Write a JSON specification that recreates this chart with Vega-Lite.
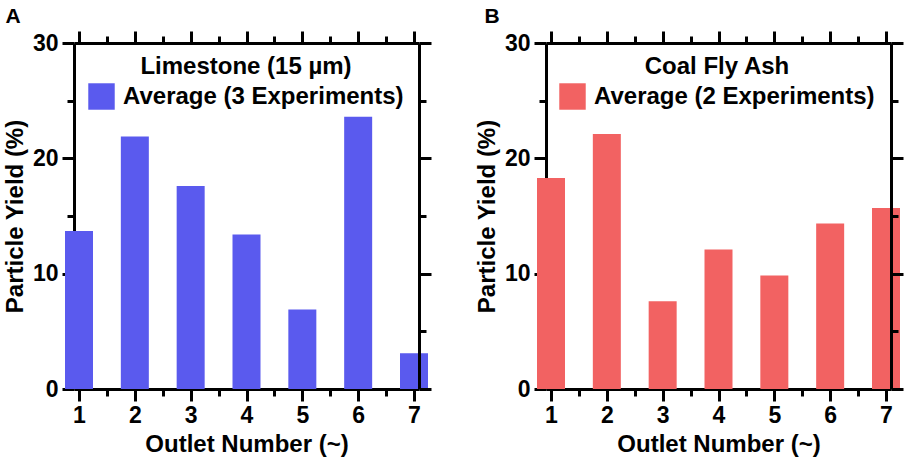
{
  "$schema": "https://vega.github.io/schema/vega-lite/v6.json",
  "padding": {"left": 3, "top": 5, "right": 5, "bottom": 5},
  "config": {
    "font": "Liberation Sans",
    "view": {"stroke": null},
    "axis": {
      "domainColor": "black", "domainWidth": 3, "tickColor": "black", "tickWidth": 3,
      "labelFont": "Liberation Sans", "labelFontSize": 23, "labelFontWeight": "bold", "labelColor": "black",
      "titleFont": "Liberation Sans", "titleFontSize": 24, "titleFontWeight": "bold", "titleColor": "black",
      "grid": false, "labelFlush": false, "labelOverlap": false
    },
    "title": {"font": "Liberation Sans", "fontSize": 21, "fontWeight": "bold", "color": "black"}
  },
  "datasets": {
    "limestone": [
      {"outlet": 1, "yield": 13.7, "series": "Average (3 Experiments)"},
      {"outlet": 2, "yield": 21.9, "series": "Average (3 Experiments)"},
      {"outlet": 3, "yield": 17.6, "series": "Average (3 Experiments)"},
      {"outlet": 4, "yield": 13.4, "series": "Average (3 Experiments)"},
      {"outlet": 5, "yield": 6.9, "series": "Average (3 Experiments)"},
      {"outlet": 6, "yield": 23.6, "series": "Average (3 Experiments)"},
      {"outlet": 7, "yield": 3.1, "series": "Average (3 Experiments)"}
    ],
    "flyash": [
      {"outlet": 1, "yield": 18.3, "series": "Average (2 Experiments)"},
      {"outlet": 2, "yield": 22.1, "series": "Average (2 Experiments)"},
      {"outlet": 3, "yield": 7.6, "series": "Average (2 Experiments)"},
      {"outlet": 4, "yield": 12.1, "series": "Average (2 Experiments)"},
      {"outlet": 5, "yield": 9.85, "series": "Average (2 Experiments)"},
      {"outlet": 6, "yield": 14.35, "series": "Average (2 Experiments)"},
      {"outlet": 7, "yield": 15.7, "series": "Average (2 Experiments)"}
    ]
  },
  "spacing": 42,
  "resolve": {"scale": {"color": "independent"}},
  "hconcat": [
    {
      "title": {"text": "A", "anchor": "start", "frame": "bounds", "offset": 3, "dx": 2},
      "width": 345,
      "height": 346,
      "data": {"name": "limestone"},
      "resolve": {"axis": {"x": "independent", "y": "independent"}},
      "layer": [
        {
          "mark": {"type": "bar", "size": 28},
          "encoding": {
            "x": {"field": "outlet", "type": "quantitative", "scale": {"domain": [1, 7], "nice": false, "zero": false},
              "axis": {"orient": "bottom", "values": [1, 2, 3, 4, 5, 6, 7], "tickSize": 12, "labelPadding": 3, "title": "Outlet Number (~)", "titlePadding": 5}},
            "y": {"field": "yield", "type": "quantitative", "scale": {"domain": [0, 30], "nice": false},
              "axis": {"orient": "left", "values": [0, 10, 20, 30], "tickSize": 12, "labelPadding": 4, "title": "Particle Yield (%)", "titlePadding": 5}},
            "color": {"field": "series", "type": "nominal", "scale": {"range": ["#5a5aee"]},
              "legend": {"orient": "none", "legendX": 14, "legendY": 12, "title": "Limestone (15 µm)",
                "titleAnchor": "middle", "titleAlign": "center", "titleFontSize": 24, "titleFontWeight": "bold", "titleColor": "black", "titlePadding": 4, "titleLimit": 400,
                "labelFontSize": 24, "labelFontWeight": "bold", "labelColor": "black", "labelLimit": 400, "labelOffset": 8,
                "symbolType": "square", "symbolSize": 700, "symbolStrokeWidth": 0, "symbolOpacity": 1}}
          }
        },
        {
          "mark": {"type": "bar", "size": 28, "opacity": 0},
          "encoding": {
            "x": {"field": "outlet", "type": "quantitative",
              "axis": {"orient": "bottom", "values": [1.5, 2.5, 3.5, 4.5, 5.5, 6.5], "tickSize": 7, "labels": false, "domain": false, "title": null}},
            "y": {"field": "yield", "type": "quantitative",
              "axis": {"orient": "left", "values": [5, 15, 25], "tickSize": 7, "labels": false, "domain": false, "title": null}}
          }
        },
        {
          "mark": {"type": "bar", "size": 28, "opacity": 0},
          "encoding": {
            "x": {"field": "outlet", "type": "quantitative",
              "axis": {"orient": "top", "values": [1, 2, 3, 4, 5, 6, 7], "tickSize": 12, "labels": false, "title": null, "zindex": 1}},
            "y": {"field": "yield", "type": "quantitative",
              "axis": {"orient": "right", "values": [0, 10, 20, 30], "tickSize": 12, "labels": false, "title": null, "zindex": 1}}
          }
        },
        {
          "mark": {"type": "bar", "size": 28, "opacity": 0},
          "encoding": {
            "x": {"field": "outlet", "type": "quantitative",
              "axis": {"orient": "top", "values": [1.5, 2.5, 3.5, 4.5, 5.5, 6.5], "tickSize": 7, "labels": false, "domain": false, "title": null, "zindex": 1}},
            "y": {"field": "yield", "type": "quantitative",
              "axis": {"orient": "right", "values": [5, 15, 25], "tickSize": 7, "labels": false, "domain": false, "title": null, "zindex": 1}}
          }
        }
      ]
    },
    {
      "title": {"text": "B", "anchor": "start", "frame": "bounds", "offset": 3, "dx": 9},
      "width": 345,
      "height": 346,
      "data": {"name": "flyash"},
      "resolve": {"axis": {"x": "independent", "y": "independent"}},
      "layer": [
        {
          "mark": {"type": "bar", "size": 28},
          "encoding": {
            "x": {"field": "outlet", "type": "quantitative", "scale": {"domain": [1, 7], "nice": false, "zero": false},
              "axis": {"orient": "bottom", "values": [1, 2, 3, 4, 5, 6, 7], "tickSize": 12, "labelPadding": 3, "title": "Outlet Number (~)", "titlePadding": 5}},
            "y": {"field": "yield", "type": "quantitative", "scale": {"domain": [0, 30], "nice": false},
              "axis": {"orient": "left", "values": [0, 10, 20, 30], "tickSize": 12, "labelPadding": 4, "title": "Particle Yield (%)", "titlePadding": 5}},
            "color": {"field": "series", "type": "nominal", "scale": {"range": ["#f26262"]},
              "legend": {"orient": "none", "legendX": 13, "legendY": 12, "title": "Coal Fly Ash",
                "titleAnchor": "middle", "titleAlign": "center", "titleFontSize": 24, "titleFontWeight": "bold", "titleColor": "black", "titlePadding": 4, "titleLimit": 400,
                "labelFontSize": 24, "labelFontWeight": "bold", "labelColor": "black", "labelLimit": 400, "labelOffset": 8,
                "symbolType": "square", "symbolSize": 700, "symbolStrokeWidth": 0, "symbolOpacity": 1}}
          }
        },
        {
          "mark": {"type": "bar", "size": 28, "opacity": 0},
          "encoding": {
            "x": {"field": "outlet", "type": "quantitative",
              "axis": {"orient": "bottom", "values": [1.5, 2.5, 3.5, 4.5, 5.5, 6.5], "tickSize": 7, "labels": false, "domain": false, "title": null}},
            "y": {"field": "yield", "type": "quantitative",
              "axis": {"orient": "left", "values": [5, 15, 25], "tickSize": 7, "labels": false, "domain": false, "title": null}}
          }
        },
        {
          "mark": {"type": "bar", "size": 28, "opacity": 0},
          "encoding": {
            "x": {"field": "outlet", "type": "quantitative",
              "axis": {"orient": "top", "values": [1, 2, 3, 4, 5, 6, 7], "tickSize": 12, "labels": false, "title": null, "zindex": 1}},
            "y": {"field": "yield", "type": "quantitative",
              "axis": {"orient": "right", "values": [0, 10, 20, 30], "tickSize": 12, "labels": false, "title": null, "zindex": 1}}
          }
        },
        {
          "mark": {"type": "bar", "size": 28, "opacity": 0},
          "encoding": {
            "x": {"field": "outlet", "type": "quantitative",
              "axis": {"orient": "top", "values": [1.5, 2.5, 3.5, 4.5, 5.5, 6.5], "tickSize": 7, "labels": false, "domain": false, "title": null, "zindex": 1}},
            "y": {"field": "yield", "type": "quantitative",
              "axis": {"orient": "right", "values": [5, 15, 25], "tickSize": 7, "labels": false, "domain": false, "title": null, "zindex": 1}}
          }
        }
      ]
    }
  ]
}
